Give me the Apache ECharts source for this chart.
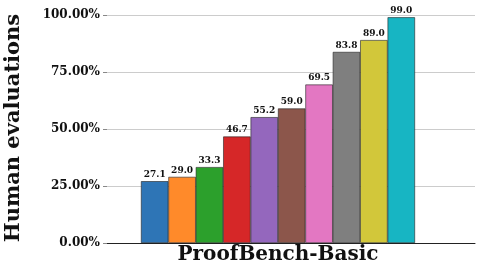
<!DOCTYPE html>
<html><head><meta charset="utf-8">
<script src="https://cdn.jsdelivr.net/npm/echarts@6/dist/echarts.min.js"></script>
<style>html,body{margin:0;padding:0;background:#fff}#c{width:480px;height:270px}</style>
</head><body><div id="c"></div>
<script>
const categories = ['1','2','3','4','5','6','7','8','9','10'];
const values = [27.1, 29.0, 33.3, 46.7, 55.2, 59.0, 69.5, 83.8, 89.0, 99.0];
const colors = ['#2e75b6','#ff8a2a','#2ca02c','#d62728','#9467bd','#8c564b','#e377c2','#7f7f7f','#d2c73a','#17b5c3'];
const yTicks = [0, 25, 50, 75, 100];
const FONT = '"DejaVu Serif", serif';

const chart = echarts.init(document.getElementById('c'), null, {renderer:'canvas'});
chart.setOption({
  animation: false,
  grid: {left: 107, right: 5, top: 15, bottom: 27},
  xAxis: {
    type: 'value', min: -1.74, max: 11.69,
    axisLine: {show: true, onZero: false, lineStyle: {color: '#222', width: 1}},
    axisTick: {show: false}, axisLabel: {show: false}, splitLine: {show: false}
  },
  yAxis: {
    type: 'value', min: yTicks[0], max: yTicks[yTicks.length-1], interval: 25,
    axisLine: {show: false, onZero: false},
    axisTick: {show: true, length: 4, lineStyle: {color: '#888'}},
    axisLabel: {margin: 7, fontFamily: FONT, fontWeight: 'bold', fontSize: 12, color: '#111',
      formatter: v => v.toFixed(2) + '%'},
    splitLine: {show: true, lineStyle: {color: '#cccccc', width: 1}}
  },
  series: [{
    type: 'bar',
    barWidth: 27.4,
    data: values.map((v, i) => ({value: [i, v], itemStyle: {color: colors[i]}})),
    itemStyle: {borderColor: '#222', borderWidth: 0.6},
    label: {show: true, position: 'top', distance: 2, fontFamily: FONT, fontWeight: 'bold', fontSize: 9, color: '#111',
      formatter: p => p.value[1].toFixed(1)}
  }],
  graphic: [
    {type: 'text', x: 14, y: 128, rotation: Math.PI/2,
      style: {text: 'Human evaluations', font: 'bold 21px ' + FONT, fill: '#111', align: 'center', verticalAlign: 'middle'}},
    {type: 'text', x: 278, y: 255,
      style: {text: 'ProofBench-Basic', font: 'bold 20px ' + FONT, fill: '#111', align: 'center', verticalAlign: 'middle'}}
  ]
});
</script></body></html>
